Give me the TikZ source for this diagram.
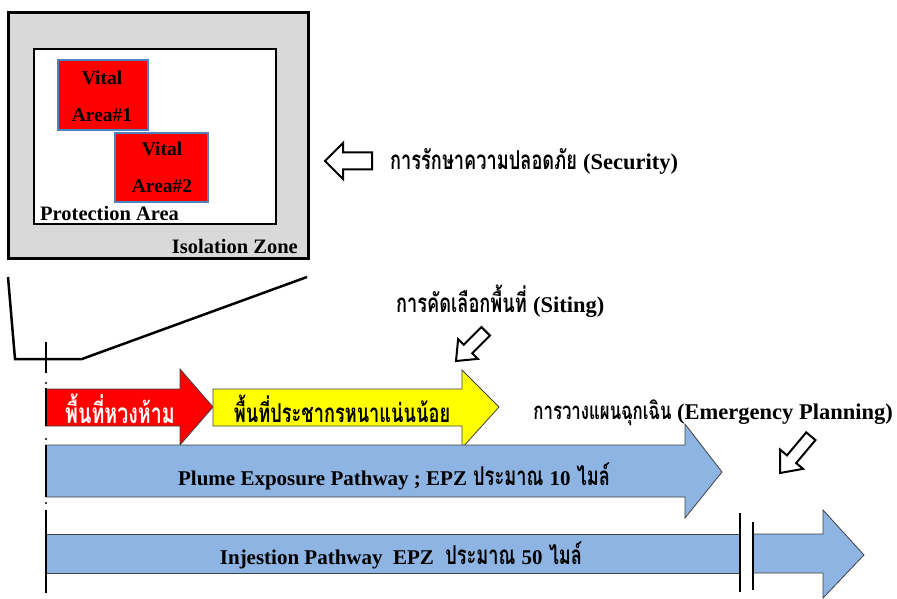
\documentclass[tikz,border=0pt]{standalone}
\usepackage{fontspec}
\setmainfont{Liberation Serif}
\newfontfamily\thf[Script=Thai, FakeStretch=0.7]{Loma}
\newcommand\LT[1]{{\rmfamily\fontsize{22.5}{26}\selectfont #1}}
\newcommand\LTs[1]{{\rmfamily\fontsize{21}{26}\selectfont #1}}
\definecolor{zonegray}{HTML}{D9D9D9}
\definecolor{vitalred}{HTML}{FF0000}
\definecolor{vitaledge}{HTML}{4F81BD}
\definecolor{arrowblue}{HTML}{8DB4E2}
\definecolor{arrowyellow}{HTML}{FFFF00}
\newcommand\hollowarrow[6]{%
  \begin{scope}[shift={#1}, rotate=#2]
    \draw[hollowstyle] (0,0) -- (-#4,#5) -- (-#4,#6) -- (-#3,#6) -- (-#3,-#6) -- (-#4,-#6) -- (-#4,-#5) -- cycle;
  \end{scope}}
\begin{document}
\begin{tikzpicture}[x=1pt,y=-1pt,
  hollowstyle/.style={draw=black, line width=2pt, fill=white, line join=miter},
  boxlbl/.style={font=\fontsize{20.5}{24}\selectfont\bfseries, inner sep=0pt},
  vitallbl/.style={font=\fontsize{19.5}{37}\selectfont\bfseries, inner sep=0pt, align=center},
  thlbl/.style={font=\thf\fontsize{26}{30}\selectfont\bfseries, inner sep=0pt},
  thsmall/.style={font=\thf\fontsize{24}{30}\selectfont\bfseries, inner sep=0pt},
  bandarrow/.style={draw=black!75, line width=0.8pt, line join=miter},
  axisline/.style={line width=2.2pt, black}]
\useasboundingbox (0,0) rectangle (897,599);

% zones
\draw[line width=3pt, fill=zonegray] (8,13) rectangle (308,258);
\draw[line width=2.5pt, fill=white] (34,49) rectangle (276,224);
\draw[draw=vitaledge, line width=1.5pt, fill=vitalred] (58,60) rectangle (148,130);
\draw[draw=vitaledge, line width=1.5pt, fill=vitalred] (115,133) rectangle (208,202);
\node[vitallbl] (v1) at (102,96) {Vital\\Area\#1};
\node[vitallbl] (v2) at (162,167) {Vital\\Area\#2};
\node[boxlbl, anchor=west] (pa) at (40,213) {Protection Area};
\node[boxlbl, anchor=east] (iz) at (298,246) {Isolation Zone};

% security
\hollowarrow{(325,161)}{180}{47}{18}{18}{8.5}
\node[thlbl, anchor=west] (sec) at (390,161) {การรักษาความปลอดภัย \LT{(Security)}};

% funnel
\draw[line width=2.5pt, line join=miter] (8,277) -- (15,359) -- (82,359) -- (307,277);

% axis
\draw[axisline] (46,342) -- (46,373);
\fill (46,383) circle (1.2);
\fill (46,439) circle (1.2);
\fill (46,503) circle (1.2);

% siting
\hollowarrow{(456,361)}{225}{42}{17}{14}{6}
\node[thlbl, anchor=west] (sit) at (396,301) {การคัดเลือกพื้นที่ \LT{(Siting)}};

% red and yellow arrows
\draw[bandarrow, fill=vitalred] (46,389) -- (180,389) -- (180,369) -- (213,407) -- (180,445) -- (180,426) -- (46,426) -- cycle;
\draw[axisline] (46,388) -- (46,426);
\node[thlbl, text=white, font=\thf\fontsize{28}{30}\selectfont\bfseries] (restr) at (120,409) {พื้นที่หวงห้าม};
\draw[bandarrow, fill=arrowyellow] (213,389) -- (462,389) -- (462,370) -- (499,407) -- (462,448) -- (462,426) -- (213,426) -- cycle;
\node[thlbl] (low) at (342,409) {พื้นที่ประชากรหนาแน่นน้อย};

% emergency
\hollowarrow{(780,473)}{230}{48}{18}{15}{6}
\node[thsmall, anchor=east] (emg) at (893,413) {การวางแผนฉุกเฉิน \LT{(Emergency Planning)}};

% plume
\draw[bandarrow, fill=arrowblue] (46,445) -- (685,445) -- (685,424) -- (722,472) -- (685,518) -- (685,497) -- (46,497) -- cycle;
\draw[axisline] (46,445) -- (46,497);
\node[thlbl] (plume) at (394,476) {\LTs{Plume Exposure Pathway ; EPZ} ประมาณ \LTs{10} ไมล์};

% injection
\fill[arrowblue] (46,534) rectangle (740,573);
\draw[bandarrow] (46,534) -- (740,534) (46,573) -- (740,573);
\fill[arrowblue] (753,534) -- (823,534) -- (823,510) -- (864,555) -- (823,598) -- (823,573) -- (753,573) -- cycle;
\draw[bandarrow] (753,534) -- (823,534) -- (823,510) -- (864,555) -- (823,598) -- (823,573) -- (753,573);
\draw[line width=1.5pt] (740,513) -- (740,592);
\draw[line width=1.5pt] (753,522) -- (753,590);
\draw[axisline] (46,510) -- (46,593);
\node[thlbl] (inj) at (401,555) {\LTs{Injestion Pathway~ EPZ~} ประมาณ \LTs{50} ไมล์};
\end{tikzpicture}
\end{document}
